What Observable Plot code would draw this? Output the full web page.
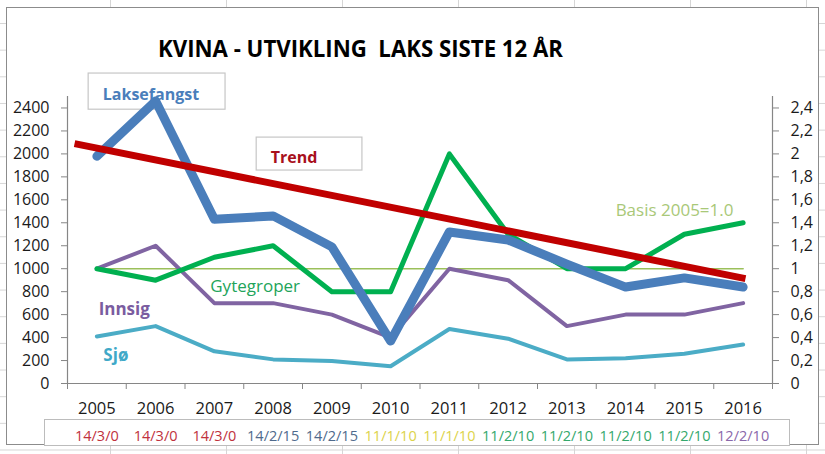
<!DOCTYPE html>
<html>
<head>
<meta charset="utf-8">
<script src="https://cdn.jsdelivr.net/npm/d3@7"></script>
<script src="https://cdn.jsdelivr.net/npm/@observablehq/plot@0.6"></script>
<style>
  html, body { margin: 0; padding: 0; background: #fff; }
  #wrap { position: relative; width: 825px; height: 454px; overflow: hidden;
    background-image: linear-gradient(to right, #d6d6d6 1px, transparent 1px), linear-gradient(to bottom, #d6d6d6 1px, transparent 1px);
    background-size: 116px 26.67px; background-position: 110px 23px; }
  #frame { position: absolute; left: 6px; top: 7px; width: 813px; height: 438px; box-sizing: border-box;
    border: 1px solid #8c8c8c; background: #fff; }
  #codebox { position: absolute; left: 44px; top: 419px; width: 746px; height: 27px; box-sizing: border-box;
    border: 1px solid #bcbcbc; background: #fff; }
  #title { position: absolute; left: 158px; top: 36px; white-space: nowrap; transform-origin: 0 0;
    font-family: "Open Sans", sans-serif; font-weight: 700; font-size: 24px; line-height: 1; color: #000; }
  #chart { position: absolute; left: 0; top: 0; }
</style>
</head>
<body>
<div id="wrap">
  <div id="frame"></div>
  <div id="codebox"></div>
  <div id="title">KVINA - UTVIKLING&nbsp; LAKS SISTE 12 ÅR</div>
  <div id="chart"></div>
</div>
<script>
// ---- data ----
const years = [2005, 2006, 2007, 2008, 2009, 2010, 2011, 2012, 2013, 2014, 2015, 2016];
const laksefangst = [1980, 2460, 1430, 1460, 1190, 370, 1320, 1250, 1040, 840, 920, 840];
const gytegroper = [1.0, 0.9, 1.1, 1.2, 0.8, 0.8, 2.0, 1.3, 1.0, 1.0, 1.3, 1.4]; // right axis (index, 2005 = 1.0)
const innsig = [1000, 1200, 700, 700, 600, 400, 1000, 900, 500, 600, 600, 700];
const sjo = [410, 500, 280, 210, 195, 150, 475, 390, 210, 220, 260, 340];
const trendYears = [2004.62, 2016.04];
const trendValues = [2090, 913];
const basisYears = [2005, 2016];
const basisValues = [1000, 1000];
const leftTicks = [0, 200, 400, 600, 800, 1000, 1200, 1400, 1600, 1800, 2000, 2200, 2400];
const rightTickLabels = ["0", "0,2", "0,4", "0,6", "0,8", "1", "1,2", "1,4", "1,6", "1,8", "2", "2,2", "2,4"];
const codes = ["14/3/0", "14/3/0", "14/3/0", "14/2/15", "14/2/15", "11/1/10", "11/1/10", "11/2/10", "11/2/10", "11/2/10", "11/2/10", "12/2/10"];
const codeColors = {"14/3/0": "#c0313d", "14/2/15": "#4f6a8c", "11/1/10": "#dcd34a", "11/2/10": "#34a86c", "12/2/10": "#8a68aa"};

// annotation labels (data coordinates)
const boxes = [
  {x1: 2004.86, x2: 2007.19, y1: 2385, y2: 2700},
  {x1: 2007.72, x2: 2009.52, y1: 1855, y2: 2142}
];
const boxLabels = [
  {text: "Laksefangst", x: 2005.1, y: 2472, color: "#4a7ebb"},
  {text: "Trend", x: 2007.96, y: 1925, color: "#a8101c"}
];
const boldLabels = [
  {text: "Innsig", x: 2005.03, y: 594, color: "#7a5ca0"},
  {text: "Sjø", x: 2005.11, y: 194, color: "#3fa9c8"}
];
const plainLabels = [
  {text: "Gytegroper", x: 2006.93, y: 794, color: "#22a45a"},
  {text: "Basis 2005=1.0", x: 2013.83, y: 1455, color: "#a9c878"}
];

const toRows = (vals) => years.map((y, i) => ({year: y, v: vals[i]}));
const lak = toRows(laksefangst);
const gyt = toRows(gytegroper);
const inn = toRows(innsig);
const sj = toRows(sjo);
const trend = trendYears.map((y, i) => ({year: y, v: trendValues[i]}));
const basis = basisYears.map((y, i) => ({year: y, v: basisValues[i]}));
const codeRows = years.map((y, i) => ({year: y, code: codes[i]}));
const boundaries = d3.range(0, 13).map(i => 2004.5 + i);

const labelOpts = {x: "x", y: "y", text: "text", fill: d => d.color, textAnchor: "start", lineAnchor: "bottom"};

const plot = Plot.plot({
  width: 825,
  height: 454,
  marginLeft: 67,
  marginRight: 53,
  marginTop: 96,
  marginBottom: 71,
  style: {background: "transparent", fontFamily: "'Open Sans', sans-serif", fontSize: "16px", color: "#1a1a1a", overflow: "visible"},
  x: {type: "linear", domain: [2004.5, 2016.5]},
  y: {type: "linear", domain: [0, 2500]},
  marks: [
    Plot.rect(boxes, {x1: "x1", x2: "x2", y1: "y1", y2: "y2", fill: "white", stroke: "#c6c6c6", strokeWidth: 1.2}),
    Plot.text(boxLabels, {...labelOpts, fontWeight: "bold", fontSize: 16}),
    // axes lines
    Plot.ruleY([0], {stroke: "#868686", strokeWidth: 1.2}),
    Plot.ruleX([2004.5, 2016.5], {stroke: "#868686", strokeWidth: 1.2}),
    Plot.axisY({anchor: "left", ticks: leftTicks, tickSize: 6, tickPadding: 12, tickFormat: d => String(d), label: null, stroke: "#868686", fill: "#1a1a1a", fontSize: 16}),
    Plot.axisY({anchor: "right", ticks: leftTicks, tickSize: 6, tickPadding: 12, tickFormat: d => rightTickLabels[Math.round(d / 200)], label: null, stroke: "#868686", fill: "#1a1a1a", fontSize: 16}),
    Plot.axisX({ticks: boundaries, tickSize: 6, tickFormat: () => "", label: null, stroke: "#868686"}),
    Plot.axisX({ticks: years, tickSize: 0, tickPadding: 19, tickFormat: d => String(d), label: null, fill: "#1a1a1a", fontSize: 16.5}),
    // series
    Plot.line(basis, {x: "year", y: "v", stroke: "#9bc05a", strokeWidth: 1.6}),
    Plot.line(sj, {x: "year", y: "v", stroke: "#4bacc6", strokeWidth: 4, strokeLinecap: "round", strokeLinejoin: "round"}),
    Plot.line(inn, {x: "year", y: "v", stroke: "#8064a2", strokeWidth: 4, strokeLinecap: "round", strokeLinejoin: "round"}),
    Plot.line(gyt, {x: "year", y: d => d.v * 1000, stroke: "#00b050", strokeWidth: 5, strokeLinecap: "round", strokeLinejoin: "round"}),
    Plot.line(lak, {x: "year", y: "v", stroke: "#4a7ebb", strokeWidth: 9, strokeLinecap: "round", strokeLinejoin: "round"}),
    Plot.line(trend, {x: "year", y: "v", stroke: "#c00000", strokeWidth: 7, strokeLinecap: "butt"}),
    Plot.text(boldLabels, {...labelOpts, fontWeight: "bold", fontSize: 17}),
    Plot.text(plainLabels, {...labelOpts, fontWeight: "normal", fontSize: 17}),
    // code row below the axis
    Plot.text(codeRows, {x: "year", text: "code", fill: d => codeColors[d.code], frameAnchor: "bottom", lineAnchor: "bottom", dy: 57, fontSize: 14.5})
  ]
});
document.getElementById("chart").appendChild(plot);

// fit the title to the reference width
const t = document.getElementById("title");
const w = t.getBoundingClientRect().width;
t.style.transform = `scaleX(${405 / w})`;
</script>
</body>
</html>
